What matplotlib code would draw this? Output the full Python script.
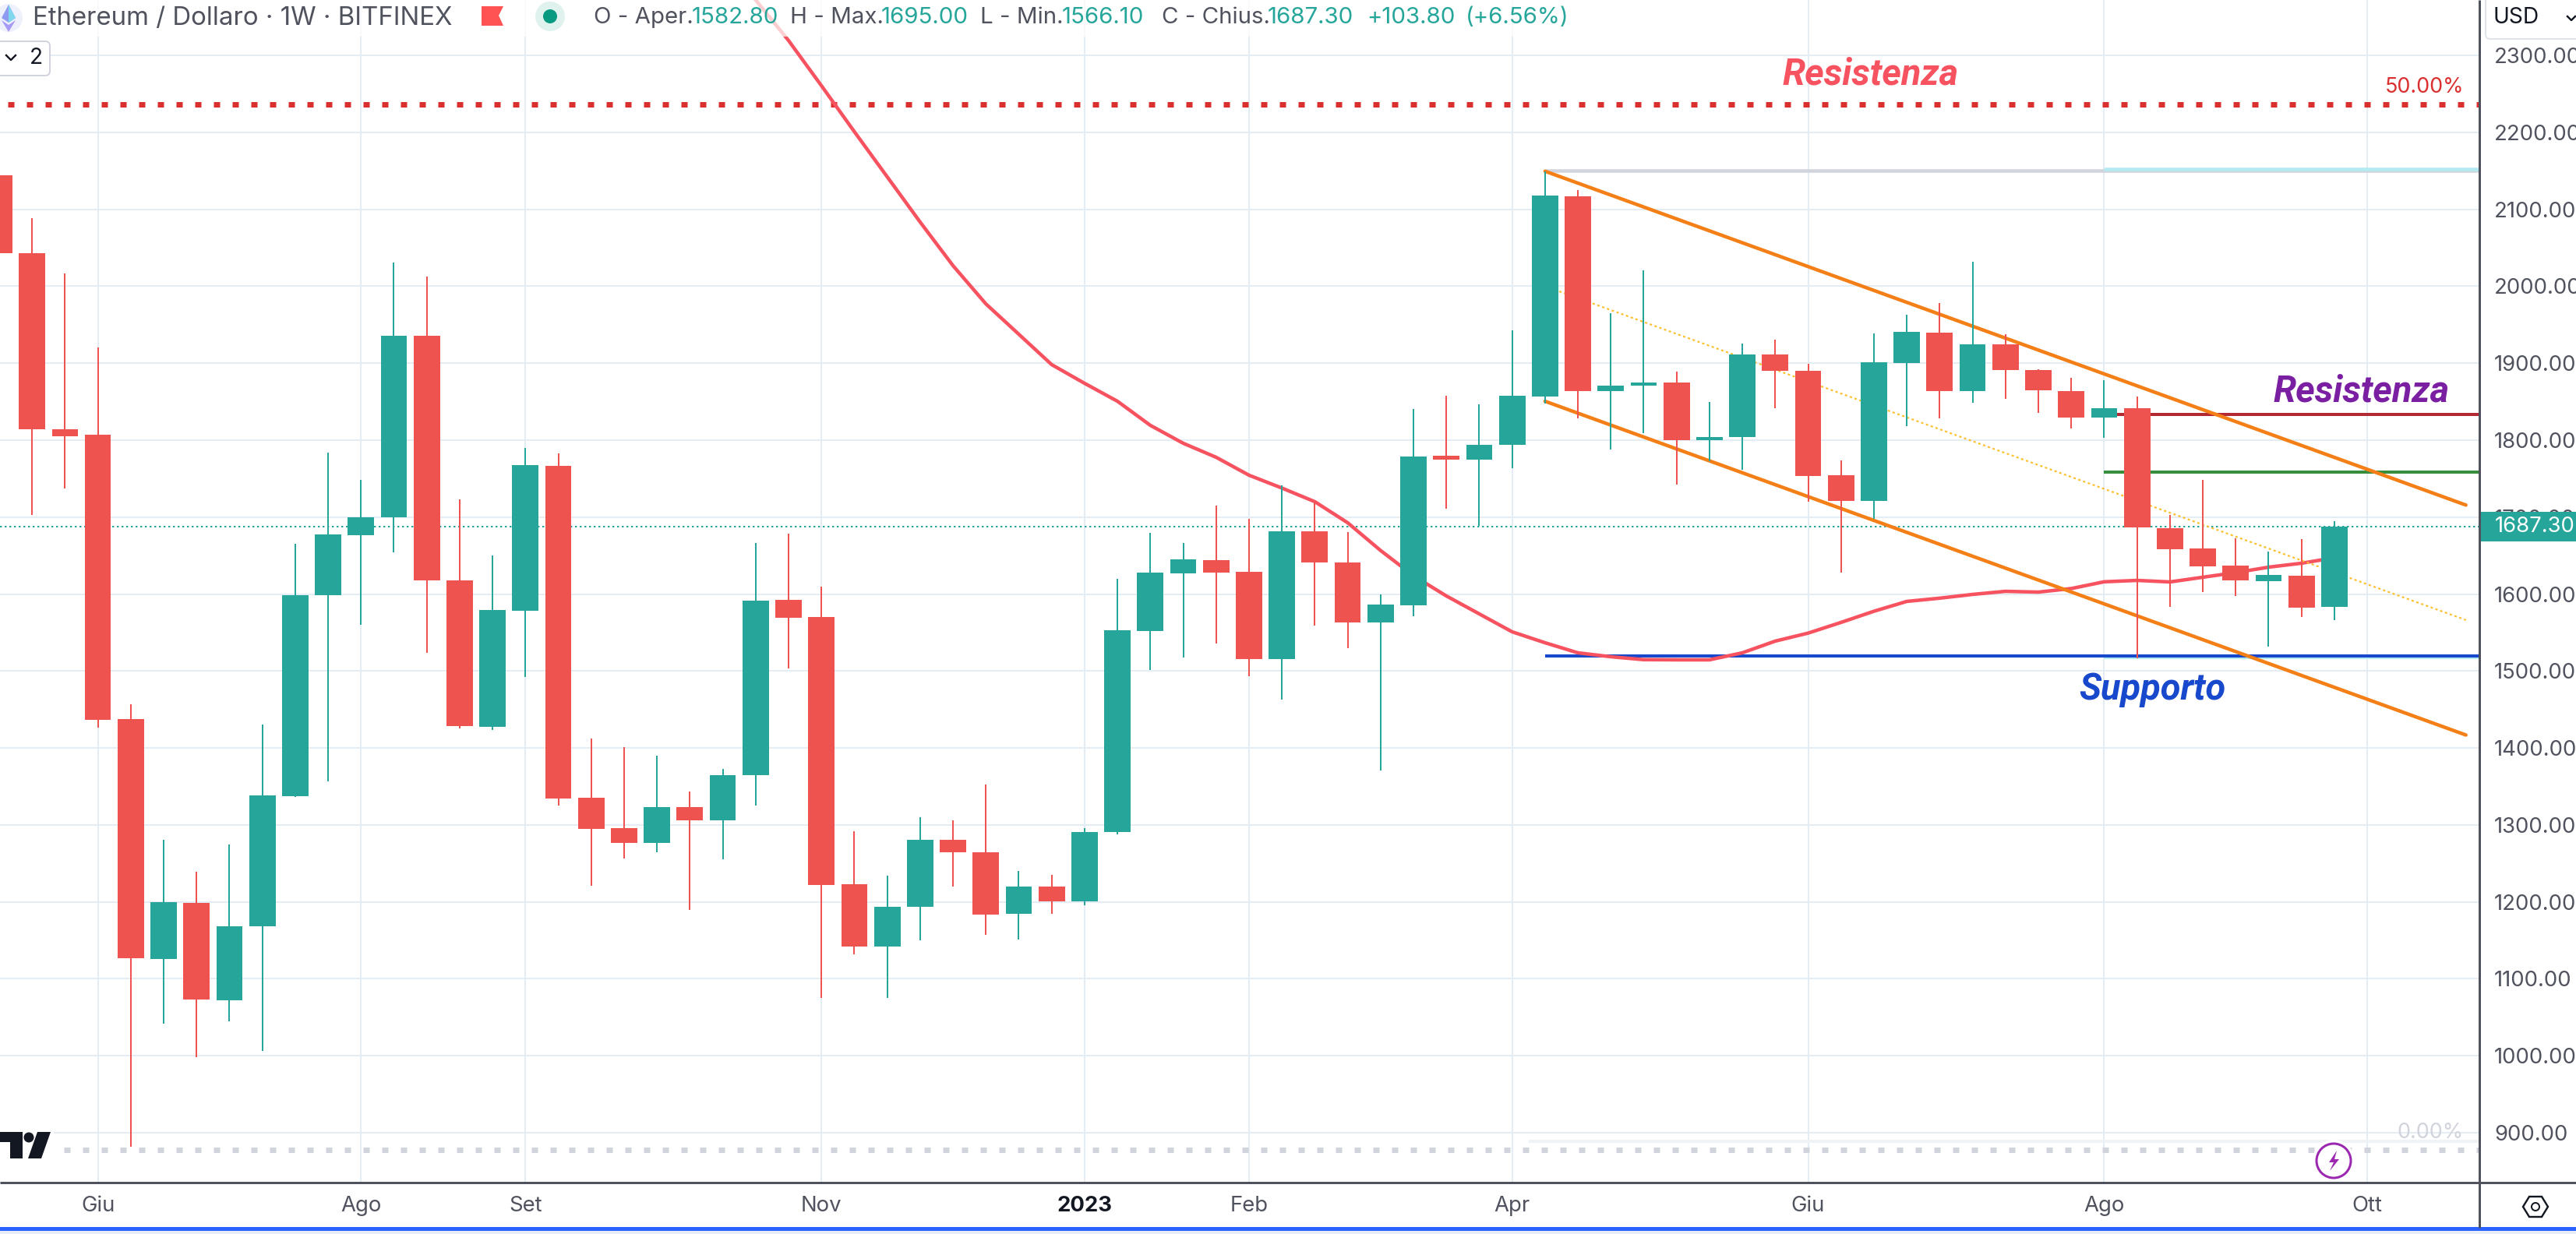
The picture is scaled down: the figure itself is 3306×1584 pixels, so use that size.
import matplotlib
matplotlib.use("Agg")
import matplotlib.pyplot as plt
from matplotlib.patches import Rectangle, Circle, Polygon, FancyBboxPatch

# ---------- data ----------
first_bar = -3
opens = [2144.1, 2042.9, 1814.1, 1807.0, 1437.5, 1126.0, 1198.7, 1072.0, 1167.8, 1337.8, 1598.4, 1676.7,
         1699.4, 1935.6, 1617.8, 1427.0, 1578.0, 1766.6, 1335.0, 1295.8, 1277.0, 1323.0, 1305.5, 1365.0,
         1592.4, 1570.0, 1223.0, 1141.5, 1193.6, 1280.6, 1264.6, 1184.0, 1220.0, 1201.0, 1290.6, 1552.0,
         1627.0, 1644.0, 1629.0, 1515.4, 1681.5, 1641.0, 1563.5, 1585.8, 1779.6, 1774.5, 1793.9, 1857.0,
         2116.8, 1863.3, 1871.0, 1874.8, 1800.0, 1804.4, 1911.3, 1890.0, 1754.4, 1721.2, 1900.6, 1939.6,
         1863.3, 1924.4, 1891.0, 1863.7, 1829.3, 1841.4, 1686.0, 1658.9, 1637.0, 1617.0, 1623.8, 1582.8]
highs = [2150.0, 2088.4, 2016.6, 1920.4, 1456.8, 1280.6, 1239.0, 1274.6, 1430.5, 1665.4, 1783.7, 1748.5,
         2030.7, 2012.5, 1723.0, 1650.3, 1789.8, 1782.7, 1412.0, 1401.0, 1390.0, 1343.4, 1372.7, 1666.3,
         1678.4, 1609.6, 1291.8, 1234.0, 1310.0, 1306.0, 1352.5, 1240.0, 1235.0, 1296.0, 1620.0, 1679.5,
         1666.0, 1714.8, 1698.0, 1741.0, 1719.0, 1680.4, 1600.0, 1840.4, 1857.4, 1846.5, 1942.7, 2149.4,
         2125.0, 1964.8, 2020.8, 1889.0, 1849.6, 1925.4, 1930.5, 1899.0, 1773.6, 1938.6, 1963.0, 1978.0,
         2031.7, 1937.6, 1892.0, 1881.0, 1878.0, 1856.6, 1702.7, 1748.3, 1672.7, 1655.0, 1671.4, 1695.0]
lows = [2030.0, 1703.0, 1737.0, 1426.4, 881.3, 1042.0, 997.7, 1045.0, 1005.8, 1335.8, 1357.0, 1560.5,
        1654.5, 1524.0, 1425.0, 1423.0, 1491.7, 1324.7, 1220.4, 1255.9, 1264.0, 1190.0, 1255.0, 1324.7,
        1503.8, 1074.7, 1132.0, 1075.6, 1150.0, 1220.0, 1157.6, 1151.0, 1184.0, 1195.6, 1287.7, 1501.6,
        1517.0, 1536.0, 1493.0, 1463.0, 1559.0, 1530.0, 1371.0, 1571.0, 1711.0, 1688.6, 1763.5, 1847.5,
        1828.7, 1787.8, 1809.0, 1742.0, 1773.0, 1761.3, 1841.0, 1720.0, 1628.2, 1697.7, 1818.0, 1828.7,
        1848.8, 1853.6, 1835.0, 1815.0, 1803.0, 1516.5, 1583.3, 1602.5, 1597.5, 1532.0, 1570.0, 1566.1]
closes = [2042.4, 1813.6, 1805.0, 1436.5, 1126.3, 1200.0, 1073.0, 1168.0, 1338.3, 1598.7, 1677.4, 1700.0,
          1935.6, 1617.3, 1428.0, 1579.0, 1767.6, 1333.8, 1294.3, 1277.0, 1323.2, 1305.5, 1364.6, 1591.4,
          1569.0, 1222.0, 1141.5, 1193.8, 1280.6, 1264.0, 1183.0, 1220.0, 1201.0, 1291.0, 1553.0, 1627.8,
          1645.0, 1627.8, 1515.6, 1681.5, 1640.6, 1563.5, 1586.0, 1778.6, 1774.5, 1793.9, 1857.6, 2117.8,
          1863.3, 1871.0, 1874.8, 1800.0, 1804.0, 1911.3, 1890.0, 1753.3, 1721.2, 1901.0, 1940.6, 1863.3,
          1924.4, 1890.6, 1864.3, 1829.7, 1841.4, 1686.6, 1658.2, 1635.9, 1617.7, 1624.8, 1582.3, 1687.3]

ma_start = 20
ma_values = [2371.9, 2319.2, 2260.5, 2200.8, 2142.1, 2083.4, 2026.7, 1977.0, 1937.6, 1898.1, 1873.8, 1850.5,
             1819.2, 1795.9, 1777.7, 1754.4, 1737.7, 1720.0, 1692.6, 1656.6, 1623.8, 1597.5, 1574.2, 1550.9,
             1536.7, 1523.6, 1518.5, 1514.7, 1514.5, 1514.5, 1523.6, 1538.8, 1549.2, 1563.1, 1577.6, 1590.4,
             1594.6, 1599.5, 1603.5, 1602.5, 1607.1, 1615.9, 1617.7, 1615.7, 1621.8, 1627.8, 1634.9, 1640.0, 1647.1]

channel_bars = [44, 72]
channel_upper = [2149.4, 1715.6]
channel_mid = [2000.0, 1566.2]
channel_lower = [1850.5, 1416.8]

fib_50 = 2236.2
fib_0 = 878.0
fib_band = 889.0
last_close = 1687.3
top_level = 2150.0
top_cyan = 2151.7
red_res = 1833.3
green_res = 1758.4
blue_sup = 1519.8
cyan_sup = 1517.0

price_ticks = list(range(900, 2301, 100))
month_bars = [0, 8, 13, 22, 30, 35, 43, 52, 61, 69]
month_labels = ["Giu", "Ago", "Set", "Nov", "2023", "Feb", "Apr", "Giu", "Ago", "Ott"]

# ---------- style ----------
W, H = 3306, 1584
PX = 0.72            # points per pixel at dpi 100
UP, DOWN = "#26a69a", "#ef5350"
GRID = "#e4edf4"
TXT = "#50535e"
DARK = "#131722"
FONT = ["Inter", "Roboto", "DejaVu Sans"]
plt.rcParams["font.family"] = FONT
plt.rcParams["lines.scale_dashes"] = False

fig = plt.figure(figsize=(W / 100, H / 100), dpi=100, facecolor="white")
PANE_R, PANE_B = 3182, 1518
ax = fig.add_axes([0, 1 - PANE_B / H, PANE_R / W, PANE_B / H])
BAR_W, X0 = 42.21, 125.6
ax.set_xlim(-X0 / BAR_W, (PANE_R - X0) / BAR_W)
ax.set_ylim(2300 - (PANE_B - 71) / 0.98786, 2300 + 71 / 0.98786)

for s in ax.spines.values():
    s.set_visible(False)
ax.set_axisbelow(True)
ax.grid(True, color=GRID, lw=2 * PX)
ax.yaxis.tick_right()
ax.set_yticks(price_ticks)
ax.set_yticklabels([f"{p:.2f}" for p in price_ticks])
ax.set_xticks(month_bars)
ax.set_xticklabels(month_labels)
ax.tick_params(axis="both", length=0, labelsize=27.5 * PX, labelcolor=TXT)
ax.tick_params(axis="y", pad=19 * PX)
ax.tick_params(axis="x", pad=17 * PX)
for lab, name in zip(ax.get_xticklabels(), month_labels):
    if name == "2023":
        lab.set_fontweight("bold")
        lab.set_color(DARK)

# horizontal levels and drawings
left, right = ax.get_xlim()
dots = (14 * PX, (8 * PX, 16 * PX))
ax.hlines(fib_50, left, right, color="#d9302f", lw=7 * PX, linestyles=[dots], zorder=2)
ax.hlines(fib_0, left, right, color="#d1d4dc", lw=7 * PX, linestyles=[dots], zorder=2)
ax.hlines(fib_band, 43.5, right, color="#f0f3f6", lw=4 * PX, zorder=1.5)
ax.hlines(last_close, left, right, color=UP, lw=2 * PX, linestyles=[(0, (2.4 * PX, 3.6 * PX))], zorder=2)
ax.hlines(top_level, channel_bars[0], right, color="#d1d4dc", lw=4.5 * PX, zorder=2)
ax.hlines(top_cyan, 61, right, color="#b2ebf2", lw=4.5 * PX, zorder=2.1)
ax.hlines(red_res, 61, right, color="#b22833", lw=4 * PX, zorder=2)
ax.hlines(green_res, 61, right, color="#388e3c", lw=4 * PX, zorder=2)
ax.hlines(cyan_sup, 61, right, color="#b2ebf2", lw=4 * PX, zorder=2)
ax.hlines(blue_sup, channel_bars[0], right, color="#1848cc", lw=4 * PX, zorder=2.1)

ax.plot(range(ma_start, ma_start + len(ma_values)), ma_values, color="#f7525f", lw=4.5 * PX, zorder=2.3,
        solid_joinstyle="round")
ax.plot(channel_bars, channel_mid, color="#fbc02d", lw=2.2 * PX, ls=(0, (3 * PX, 3.5 * PX)), zorder=2.4)
for series in (channel_upper, channel_lower):
    ax.plot(channel_bars, series, color="#f57f17", lw=4.5 * PX, zorder=2.5, solid_capstyle="round")

# candles
bars = list(range(first_bar, first_bar + len(opens)))
colors = [UP if c >= o else DOWN for o, c in zip(opens, closes)]
ax.vlines(bars, lows, highs, colors=colors, lw=2 * PX, zorder=3)
ax.bar(bars, [abs(c - o) for o, c in zip(opens, closes)], bottom=[min(o, c) for o, c in zip(opens, closes)],
       width=0.8, color=colors, linewidth=0, zorder=3.1)

# annotations on the drawing layer
def note(bar, price, s, color):
    ax.text(bar, price, s, color=color, fontsize=47 * PX, fontweight="bold", fontstyle="italic",
            family=["Roboto", "DejaVu Sans"], ha="center", va="center", zorder=4)

note(53.9, 2275.7, "Resistenza", "#f7525f")
note(68.83, 1862.7, "Resistenza", "#7b1fa2")
note(62.46, 1475.5, "Supporto", "#1848cc")

# chrome: full-figure pixel layer
ui = fig.add_axes([0, 0, 1, 1], facecolor="none")
ui.set_xlim(0, W)
ui.set_ylim(H, 0)
ui.axis("off")

ui.text(3162, 112, "50.00%", color="#d9302f", fontsize=27 * PX, ha="right", va="center")
ui.text(3162, 1454, "0.00%", color="#d1d4dc", fontsize=27 * PX, ha="right", va="center")

# legend strip
ui.add_patch(Rectangle((0, 0), 2010, 47, fc="white", alpha=0.72, lw=0))
ui.add_patch(Circle((11, 23), 18, fc="#eef0fb", lw=0))
ui.add_patch(Polygon([(11, 6), (20, 23), (11, 29), (2, 23)], fc="#8f9bf0", lw=0))
ui.add_patch(Polygon([(11, 6), (20, 23), (11, 29)], fc="#7fd8ee", lw=0))
ui.add_patch(Polygon([(11, 32), (20, 26), (11, 41), (2, 26)], fc="#a79bf5", lw=0))
ui.add_patch(Polygon([(618, 8), (646, 8), (640, 20), (646, 33), (618, 33)], fc="#ff5252", lw=0))
ui.add_patch(Circle((706, 21), 19, fc="#e0f2ee", lw=0))
ui.add_patch(Circle((706, 21), 9, fc="#089981", lw=0))

def leg(x, s, color=TXT):
    ui.text(x, 23, s, color=color, fontsize=29.5 * PX, ha="left", va="center")

ui.text(42, 24, "Ethereum / Dollaro · 1W · BITFINEX", color=TXT, fontsize=33 * PX, ha="left", va="center")
leg(762, "O - Aper.")
leg(888, "1582.80", UP)
leg(1014, "H - Max.")
leg(1131, "1695.00", UP)
leg(1258, "L - Min.")
leg(1363, "1566.10", UP)
leg(1491, "C - Chius.")
leg(1627, "1687.30", UP)
leg(1754, "+103.80", UP)
leg(1881, "(+6.56%)", UP)

# collapse button
ui.add_patch(FancyBboxPatch((-20, 53), 84, 44, boxstyle="round,pad=0,rounding_size=6", fc="white", ec="#d1d4dc", lw=2 * PX))
ui.plot([8, 14, 20], [71, 77, 71], color=DARK, lw=2.4 * PX)
ui.text(46, 75, "2", color=DARK, fontsize=28 * PX, ha="center", va="center")

# TradingView mark
ui.add_patch(Rectangle((0, 1450), 69, 40, fc="white", lw=0))
ui.add_patch(Polygon([(0, 1453), (29, 1453), (29, 1487), (13, 1487), (13, 1466), (0, 1466)], fc=DARK, lw=0))
ui.add_patch(Circle((37, 1460), 6.5, fc=DARK, lw=0))
ui.add_patch(Polygon([(48, 1453), (65, 1453), (53, 1487), (36, 1487)], fc=DARK, lw=0))

# flash icon
ui.add_patch(Circle((2995, 1490), 27, fc="white", lw=0))
ui.add_patch(Circle((2995, 1490), 22, fc="white", ec="#9c27b0", lw=3 * PX))
ui.add_patch(Polygon([(2999, 1477), (2989, 1492), (2995, 1492), (2990, 1503), (3002, 1488), (2996, 1488)],
                     fc="#9c27b0", lw=0))

# axis borders
ui.plot([PANE_R, PANE_R], [0, 1576], color=TXT, lw=3 * PX, solid_capstyle="butt")
ui.plot([0, W], [PANE_B, PANE_B], color=TXT, lw=3 * PX, solid_capstyle="butt")
ui.add_patch(Rectangle((0, 1575), W, 5, fc="#2962ff", lw=0))
ui.add_patch(Rectangle((0, 1580), W, 4, fc="#e8edf7", lw=0))

# currency box
ui.add_patch(FancyBboxPatch((3190, -10), 140, 60, boxstyle="round,pad=0,rounding_size=6", fc="white", ec="#e0e3eb", lw=2 * PX))
ui.text(3199, 23, "USD", color=DARK, fontsize=28 * PX, ha="left", va="center")
ui.plot([3295, 3300, 3305], [21, 26, 21], color=DARK, lw=2.4 * PX)

# last price tag
ui.add_patch(Rectangle((PANE_R, 657), W - PANE_R, 38, fc=UP, lw=0))
ui.text(3202, 676, "1687.30", color="white", fontsize=27.5 * PX, ha="left", va="center")

# settings icon
ui.add_patch(Polygon([(3238, 1549), (3246, 1536), (3262, 1536), (3270, 1549), (3262, 1562), (3246, 1562)],
                     fc="none", ec=DARK, lw=2.4 * PX))
ui.add_patch(Circle((3254, 1549), 5, fc="none", ec=DARK, lw=2 * PX))

fig.savefig("out.png", dpi=100)
